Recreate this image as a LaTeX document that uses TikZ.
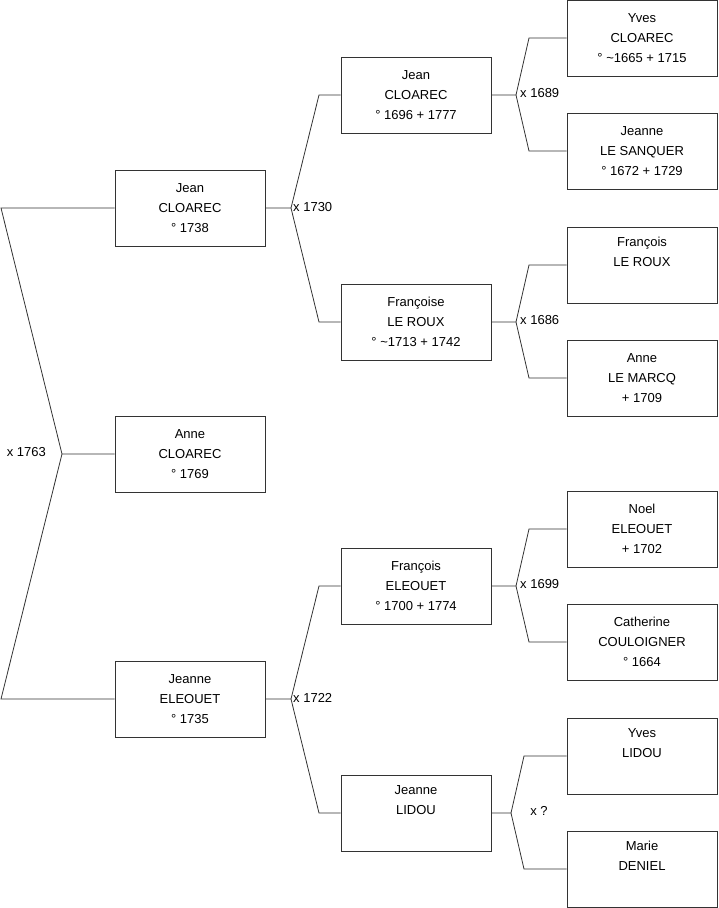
\documentclass[tikz,border=0pt]{standalone}
\usepackage{fontspec}
\setmainfont{Liberation Sans}
\begin{document}
\begin{tikzpicture}[x=1pt,y=-1pt,
  person/.style={draw=black!80,line width=0.8pt,minimum width=150pt,minimum height=76pt,
    inner sep=0pt,align=center,font=\fontsize{13}{20}\selectfont,fill=white},
  link/.style={draw=black!80,line width=0.8pt},
  marr/.style={font=\fontsize{13}{14}\selectfont,inner sep=0pt}]
\useasboundingbox (0,0) rectangle (719,908);
% generation 0
\node[person] (anne) at (190,454) {Anne\\CLOAREC\\° 1769};
% generation 1
\node[person] (jean1) at (190,208) {Jean\\CLOAREC\\° 1738};
\node[person] (jeanne1) at (190,699) {Jeanne\\ELEOUET\\° 1735};
% generation 2
\node[person] (jean2) at (416,95) {Jean\\CLOAREC\\° 1696 + 1777};
\node[person] (francoise) at (416,322) {Françoise\\LE ROUX\\° \textasciitilde1713 + 1742};
\node[person] (francoisE) at (416,586) {François\\ELEOUET\\° 1700 + 1774};
\node[person] (jeanneL) at (416,813) {Jeanne\\LIDOU\\\strut};
% generation 3
\node[person] (yves) at (642,38) {Yves\\CLOAREC\\° \textasciitilde1665 + 1715};
\node[person] (jeanneS) at (642,151) {Jeanne\\LE SANQUER\\° 1672 + 1729};
\node[person] (francoisR) at (642,265) {François\\LE ROUX\\\strut};
\node[person] (anneM) at (642,378) {Anne\\LE MARCQ\\+ 1709};
\node[person] (noel) at (642,529) {Noel\\ELEOUET\\+ 1702};
\node[person] (catherine) at (642,642) {Catherine\\COULOIGNER\\° 1664};
\node[person] (yvesL) at (642,756) {Yves\\LIDOU\\\strut};
\node[person] (marie) at (642,869) {Marie\\DENIEL\\\strut};
% junctions
\coordinate (j0) at (62,454);
\coordinate (j0a) at (1,208);
\coordinate (j0b) at (1,699);
\coordinate (j1) at (291,208);
\coordinate (j1a) at (319,95);
\coordinate (j1b) at (319,322);
\coordinate (j2) at (291,699);
\coordinate (j2a) at (319,586);
\coordinate (j2b) at (319,813);
\coordinate (j3) at (516,95);
\coordinate (j3a) at (529,38);
\coordinate (j3b) at (529,151);
\coordinate (j4) at (516,322);
\coordinate (j4a) at (529,265);
\coordinate (j4b) at (529,378);
\coordinate (j5) at (516,586);
\coordinate (j5a) at (529,529);
\coordinate (j5b) at (529,642);
\coordinate (j6) at (511,813);
\coordinate (j6a) at (524,756);
\coordinate (j6b) at (524,869);
% connectors
\draw[link] (anne.west) -- (j0) -- (j0a) -- (jean1.west);
\draw[link] (j0) -- (j0b) -- (jeanne1.west);
\draw[link] (jean1.east) -- (j1) -- (j1a) -- (jean2.west);
\draw[link] (j1) -- (j1b) -- (francoise.west);
\draw[link] (jeanne1.east) -- (j2) -- (j2a) -- (francoisE.west);
\draw[link] (j2) -- (j2b) -- (jeanneL.west);
\draw[link] (jean2.east) -- (j3) -- (j3a) -- (yves.west);
\draw[link] (j3) -- (j3b) -- (jeanneS.west);
\draw[link] (francoise.east) -- (j4) -- (j4a) -- (francoisR.west);
\draw[link] (j4) -- (j4b) -- (anneM.west);
\draw[link] (francoisE.east) -- (j5) -- (j5a) -- (noel.west);
\draw[link] (j5) -- (j5b) -- (catherine.west);
\draw[link] (jeanneL.east) -- (j6) -- (j6a) -- (yvesL.west);
\draw[link] (j6) -- (j6b) -- (marie.west);
% marriage labels
\node[marr,anchor=east] (m0) at (46,452) {x 1763};
\node[marr,anchor=west] (m1) at (293,207) {x 1730};
\node[marr,anchor=west] (m2) at (293,698) {x 1722};
\node[marr,anchor=west] (m3) at (520,93) {x 1689};
\node[marr,anchor=west] (m4) at (520,320) {x 1686};
\node[marr,anchor=west] (m5) at (520,584) {x 1699};
\node[marr] (m6) at (539,811) {x ?};
\end{tikzpicture}
\end{document}
